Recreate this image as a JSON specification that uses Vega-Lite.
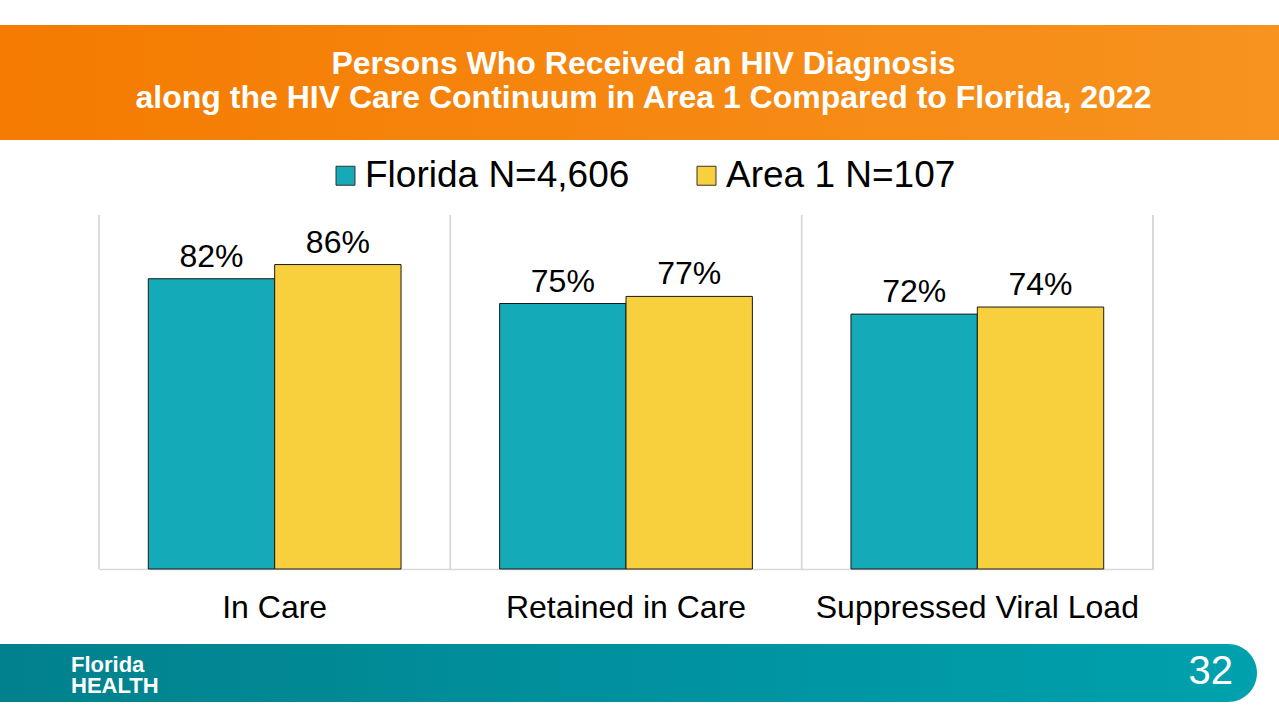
{
  "$schema": "https://vega.github.io/schema/vega-lite/v6.json",
  "padding": {"top": 25, "bottom": 17, "left": 0, "right": 0},
  "background": "white",
  "bounds": "flush",
  "spacing": 75,
  "config": {"view": {"stroke": null}, "font": "Liberation Sans"},
  "vconcat": [
    {
      "width": 1279,
      "height": 115,
      "data": {"values": [{"id": 1}]},
      "layer": [
        {
          "mark": {
            "type": "rect",
            "fill": {"gradient": "linear", "x1": 0, "y1": 0, "x2": 1, "y2": 0,
              "stops": [{"offset": 0, "color": "#F57B01"}, {"offset": 1, "color": "#F7931F"}]}
          },
          "encoding": {"x": {"value": 0}, "x2": {"value": "width"}, "y": {"value": 0}, "y2": {"value": "height"}}
        },
        {
          "mark": {
            "type": "text",
            "text": ["Persons Who Received an HIV Diagnosis", "along the HIV Care Continuum in Area 1 Compared to Florida, 2022"],
            "color": "white", "fontWeight": "bold", "fontSize": 32, "lineHeight": 34,
            "align": "center", "baseline": "middle", "dx": 4, "dy": -19
          },
          "encoding": {}
        }
      ]
    },
    {
      "width": 1279,
      "height": 354,
      "data": {"values": [
        {"category": "In Care", "series": "Florida N=4,606", "value": 0.82},
        {"category": "In Care", "series": "Area 1 N=107", "value": 0.86},
        {"category": "Retained in Care", "series": "Florida N=4,606", "value": 0.75},
        {"category": "Retained in Care", "series": "Area 1 N=107", "value": 0.77},
        {"category": "Suppressed Viral Load", "series": "Florida N=4,606", "value": 0.72},
        {"category": "Suppressed Viral Load", "series": "Area 1 N=107", "value": 0.74}
      ]},
      "encoding": {
        "x": {
          "field": "category", "type": "nominal",
          "sort": ["In Care", "Retained in Care", "Suppressed Viral Load"],
          "scale": {"range": [99, 1153], "paddingInner": 0, "paddingOuter": 0},
          "axis": {
            "title": null, "labelAngle": 0, "labelFontSize": 32, "labelColor": "#000000",
            "labelPadding": 23, "labelLimit": 0, "ticks": false, "tickSize": 0,
            "domain": true, "domainColor": "#D9D9D9", "domainWidth": 1.5, "grid": false
          }
        }
      },
      "layer": [
        {
          "mark": {"type": "rule", "color": "#D9D9D9", "strokeWidth": 1.5},
          "encoding": {"x": {"field": "category", "type": "nominal", "bandPosition": 0}}
        },
        {
          "mark": {"type": "rule", "color": "#D9D9D9", "strokeWidth": 1.5},
          "encoding": {"x": {"datum": "Suppressed Viral Load", "type": "nominal", "bandPosition": 1}}
        },
        {
          "mark": {"type": "bar", "stroke": "#1A1A1A", "strokeWidth": 1},
          "encoding": {
            "xOffset": {"field": "series", "type": "nominal", "sort": ["Florida N=4,606", "Area 1 N=107"],
              "scale": {"paddingInner": 0, "paddingOuter": 0.39}},
            "y": {"field": "value", "type": "quantitative", "scale": {"domain": [0, 1]}, "axis": null},
            "color": {
              "field": "series", "type": "nominal", "sort": ["Florida N=4,606", "Area 1 N=107"],
              "scale": {"domain": ["Florida N=4,606", "Area 1 N=107"], "range": ["#14AAB8", "#F8CF3C"]},
              "legend": {
                "orient": "none", "legendX": 327, "legendY": 132, "direction": "horizontal",
                "title": null, "symbolType": "square", "symbolSize": 360,
                "symbolStrokeColor": "#333333", "symbolStrokeWidth": 1,
                "labelFontSize": 37, "labelColor": "#000000", "labelOffset": 1,
                "labelLimit": 0, "columnPadding": 58, "padding": 0
              }
            }
          }
        },
        {
          "mark": {"type": "text", "fontSize": 32, "color": "#000000", "baseline": "alphabetic", "align": "center", "dy": -12},
          "encoding": {
            "xOffset": {"field": "series", "type": "nominal", "sort": ["Florida N=4,606", "Area 1 N=107"],
              "scale": {"paddingInner": 0, "paddingOuter": 0.39}},
            "y": {"field": "value", "type": "quantitative", "scale": {"domain": [0, 1]}, "axis": null},
            "text": {"field": "value", "type": "quantitative", "format": ".0%"}
          }
        }
      ]
    },
    {
      "width": 1257,
      "height": 58,
      "data": {"values": [{"id": 1}]},
      "layer": [
        {
          "mark": {
            "type": "rect", "cornerRadiusTopRight": 29, "cornerRadiusBottomRight": 29,
            "fill": {"gradient": "linear", "x1": 0, "y1": 0, "x2": 1, "y2": 0,
              "stops": [{"offset": 0, "color": "#01818D"}, {"offset": 1, "color": "#00A1AE"}]}
          },
          "encoding": {"x": {"value": 0}, "x2": {"value": "width"}, "y": {"value": 0}, "y2": {"value": "height"}}
        },
        {
          "mark": {
            "type": "text", "text": ["Florida", "HEALTH"],
            "fontWeight": "bold", "fontSize": 22, "lineHeight": 21, "color": "white",
            "align": "left", "baseline": "middle", "dx": 71, "dy": -8
          },
          "encoding": {"x": {"value": 0}}
        },
        {
          "mark": {
            "type": "text", "text": "32", "fontSize": 40, "color": "white",
            "align": "right", "baseline": "middle", "dx": -24, "dy": -1
          },
          "encoding": {"x": {"value": "width"}}
        }
      ]
    }
  ]
}
